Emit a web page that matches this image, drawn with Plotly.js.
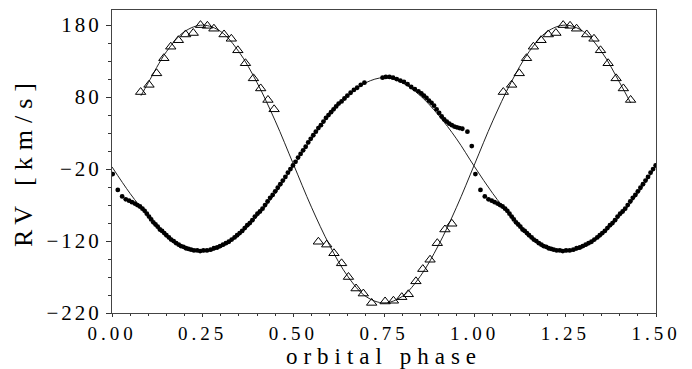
<!DOCTYPE html>
<html>
<head>
<meta charset="utf-8">
<script src="https://cdn.plot.ly/plotly-3.0.1.min.js"></script>
<style>
  html, body { margin: 0; padding: 0; background: #fff; }
  #chart { width: 692px; height: 369px; }
  .xtick text { letter-spacing: 4px; }
  .ytick text { letter-spacing: 3px; }
  .xtitle { letter-spacing: 6px; }
  .ytitle { letter-spacing: 7px; }
</style>
</head>
<body>
<div id="chart"></div>
<script>
// ---- Primary star RVs (filled dots), phase 0..1 ----
const dotPhase = [0.002,0.016,0.028,0.038,0.047,0.055,0.063,0.070,0.077,0.084,0.090,0.096,
  0.102,0.108,0.114,0.120,0.126,0.132,0.138,0.144,0.150,0.157,0.163,0.170,0.177,0.184,0.190,0.197,
  0.204,0.211,0.218,0.226,0.235,0.243,0.252,0.262,0.272,0.281,0.290,0.298,0.306,0.314,0.322,0.330,
  0.338,0.345,0.352,0.359,0.366,0.373,0.380,0.387,0.394,0.401,0.408,0.415,0.422,0.429,0.436,0.443,
  0.450,0.457,0.464,0.471,0.478,0.485,0.492,0.499,0.506,0.513,0.520,0.527,0.534,0.541,0.548,0.555,
  0.562,0.569,0.576,0.583,0.590,0.597,0.604,0.611,0.618,0.625,0.633,0.641,0.649,0.658,0.667,0.676,
  0.686,0.696,0.746,0.755,0.765,0.775,0.785,0.795,0.805,0.815,0.825,0.835,0.845,0.853,0.860,0.867,
  0.874,0.881,0.888,0.895,0.902,0.909,0.916,0.923,0.930,0.937,0.944,0.951,0.958,0.966,0.980,0.992];
const dotRV = [-27,-49,-58,-62,-64,-66,-68,-70,-72,-75,-78,-82,
  -86,-90,-94,-97,-100,-104,-106,-109,-112,-115,-118,-120,-123,-125,-127,-128,
  -130,-131,-132,-133,-133,-134,-133,-133,-132,-130,-129,-127,-125,-123,-121,-118,
  -115,-112,-109,-106,-102,-98,-95,-91,-86,-82,-79,-75,-70,-65,-60,-56,
  -51,-46,-41,-36,-31,-25,-20,-15,-10,-4,1,6,11,17,22,27,
  32,37,41,46,51,55,59,63,67,71,74,78,82,86,90,93,
  97,100,107,108,108,107,105,103,101,98,94,91,88,85,82,79,
  75,72,68,63,58,53,49,46,43,41,39,38,37,36,32,12];

// ---- Secondary star RVs (open triangles), phase 0..1 ----
const triPhase = [0.079,0.102,0.123,0.143,0.162,0.183,0.203,0.224,0.244,0.263,0.281,0.309,0.329,
  0.347,0.368,0.390,0.410,0.430,0.447,
  0.569,0.592,0.612,0.633,0.652,0.673,0.693,0.716,0.753,0.776,0.799,0.817,0.838,0.857,0.877,
  0.897,0.918,0.937];
const triRV = [87,97,113,134,150,159,167,169,180,179,175,167,161,
  145,127,106,92,76,63,
  -121,-125,-137,-151,-170,-186,-193,-206,-204,-203,-198,-194,-176,-159,-146,
  -123,-104,-96];

// phase extent shown for the repeated cycle
const dotRepeatMax = 1.5;
const triRepeatMax = 1.44;

// ---- Orbit solution curves ----
const fit1Phase = [0,0.05,0.10,0.15,0.20,0.25,0.30,0.35,0.40,0.45,0.50,0.55,0.60,0.65,0.70,0.75,
  0.80,0.85,0.90,0.95,1.00,1.05,1.10,1.15,1.20,1.25,1.30,1.35,1.40,1.45,1.50];
const fit1RV = [-17,-54,-86,-112,-129,-135,-129,-112,-86,-54,-16,22,55,82,100,107,
  100,82,55,22,-17,-54,-86,-112,-129,-135,-129,-112,-86,-54,-16];
const fit2Phase = [0.08,0.10,0.15,0.20,0.25,0.30,0.35,0.40,0.45,0.50,0.55,0.60,0.65,0.70,0.75,
  0.80,0.85,0.90,0.95,1.00,1.05,1.10,1.15,1.20,1.25,1.30,1.35,1.40,1.43];
const fit2RV = [82,100,143,171,180,171,143,100,47,-13,-73,-126,-169,-197,-206,
  -197,-169,-126,-73,-13,47,100,143,171,180,171,143,100,72];

const xTickVals = [0, 0.25, 0.5, 0.75, 1.0, 1.25, 1.5];
const xTickText = ['0.00','0.25','0.50','0.75','1.00','1.25','1.50'];
const yTickVals = [-220, -120, -20, 80, 180];

function extend(ph, rv, maxPh) {
  const x = ph.slice(), y = rv.slice();
  for (let i = 0; i < ph.length; i++) {
    if (ph[i] + 1 <= maxPh) { x.push(ph[i] + 1); y.push(rv[i]); }
  }
  return {x, y};
}
const dots = extend(dotPhase, dotRV, dotRepeatMax);
const tris = extend(triPhase, triRV, triRepeatMax);

const serif = '"Liberation Serif", "DejaVu Serif", serif';

const traces = [
  {x: fit1Phase, y: fit1RV, mode: 'lines', line: {color: '#222', width: 1, shape: 'spline'}, hoverinfo: 'skip'},
  {x: fit2Phase, y: fit2RV, mode: 'lines', line: {color: '#222', width: 1, shape: 'spline'}, hoverinfo: 'skip'},
  {x: dots.x, y: dots.y, mode: 'markers', marker: {symbol: 'circle', size: 4.8, color: '#000'}},
  {x: tris.x, y: tris.y, mode: 'markers', marker: {symbol: 'triangle-up-open', size: 9, color: '#000', line: {width: 1, color: '#000'}}}
];

const layout = {
  width: 692, height: 369,
  margin: {l: 112, r: 36, t: 10, b: 56},
  paper_bgcolor: '#fff', plot_bgcolor: '#fff',
  showlegend: false,
  font: {family: serif, color: '#000'},
  xaxis: {
    range: [0, 1.5], tickvals: xTickVals, ticktext: xTickText,
    ticks: 'outside', ticklen: 3, tickwidth: 1, tickcolor: '#333',
    minor: {dtick: 0.05, ticks: 'outside', ticklen: 2, tickcolor: '#333'},
    showline: true, linecolor: '#444', linewidth: 1, mirror: true,
    showgrid: false, zeroline: false,
    tickfont: {family: serif, size: 19, color: '#000'},
    title: {text: 'orbital phase', font: {family: serif, size: 23, color: '#000'}, standoff: 9}
  },
  yaxis: {
    range: [-220, 201], tickvals: yTickVals,
    ticks: 'outside', ticklen: 5, tickwidth: 1, tickcolor: '#333',
    minor: {dtick: 25, tick0: -220, ticks: 'outside', ticklen: 3, tickcolor: '#333'},
    showline: true, linecolor: '#444', linewidth: 1, mirror: true,
    showgrid: false, zeroline: false,
    tickfont: {family: serif, size: 21, color: '#000'},
    title: {text: 'RV [km/s]', font: {family: serif, size: 26, color: '#000'}, standoff: 6}
  }
};

Plotly.newPlot('chart', traces, layout, {displayModeBar: false, staticPlot: true});
</script>
</body>
</html>
